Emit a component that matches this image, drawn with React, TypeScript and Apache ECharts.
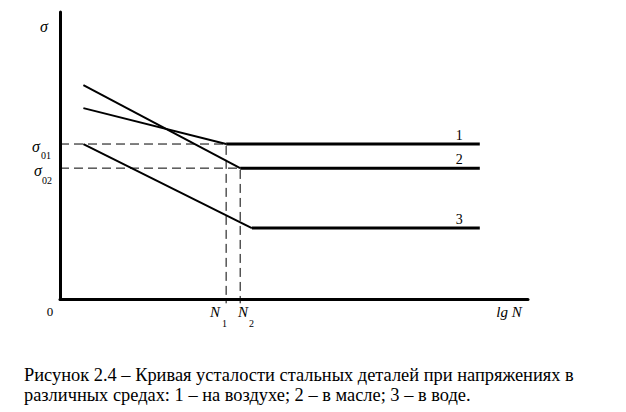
import React, { useEffect, useRef } from "react";
import * as echarts from "echarts";

// Fatigue curves (lg N, sigma) in arbitrary units: start, knee, end
const curve1: [number, number][] = [[0.5, 6.65], [3.55, 5.4], [8.97, 5.4]];
const curve2: [number, number][] = [[0.5, 7.45], [3.85, 4.56], [8.97, 4.56]];
const curve3: [number, number][] = [[0.5, 5.4], [4.1, 2.47], [8.97, 2.47]];
const curveNames = ["1", "2", "3"];
const guide1: [number, number][] = [[0, 5.4], [3.55, 5.4], [3.55, -0.15]];
const guide2: [number, number][] = [[0, 4.56], [3.85, 4.56], [3.85, -0.15]];
const captionLines = [
  "Рисунок 2.4 – Кривая усталости стальных деталей при напряжениях в",
  "различных средах: 1 – на воздухе; 2 – в масле; 3 – в воде.",
];

const SERIF = "Liberation Serif";

export default function App() {
  const ref = useRef<HTMLDivElement>(null);
  useEffect(() => {
    if (!ref.current) return;
    const chart = echarts.init(ref.current, null, { renderer: "svg" });
    const curves = [curve1, curve2, curve3];
    const series: any[] = [];
    curves.forEach((c, i) => {
      series.push({
        type: "line",
        data: c.slice(0, 2),
        symbol: "none",
        lineStyle: { color: "#000", width: 2 },
        silent: true,
      });
      series.push({
        type: "line",
        data: c.slice(1),
        symbol: "none",
        lineStyle: { color: "#000", width: 3 },
        silent: true,
        endLabel: {
          show: true,
          formatter: curveNames[i],
          offset: [-32, -9],
          color: "#000",
          fontFamily: SERIF,
          fontSize: 14,
        },
      });
    });
    [guide1, guide2].forEach((g) => {
      series.push({
        type: "line",
        data: g,
        symbol: "none",
        clip: false,
        lineStyle: { color: "#000", width: 1, type: [9, 5] },
        silent: true,
      });
    });

    const txt = (x: number, y: number, text: string, size: number, italic = false, align = "center") => ({
      type: "text",
      x,
      y,
      style: {
        text,
        fill: "#000",
        fontFamily: SERIF,
        fontSize: size,
        fontStyle: italic ? "italic" : "normal",
        align,
        verticalAlign: "middle",
      },
      silent: true,
    });

    chart.setOption({
      animation: false,
      backgroundColor: "#fff",
      grid: { left: 60, right: 98, top: 12, bottom: 113, containLabel: false },
      xAxis: {
        type: "value",
        min: 0,
        max: 10,
        axisLine: { show: true, lineStyle: { color: "#000", width: 3 } },
        axisTick: { show: false },
        axisLabel: { show: false },
        splitLine: { show: false },
      },
      yAxis: {
        type: "value",
        min: 0,
        max: 10,
        axisLine: { show: true, lineStyle: { color: "#000", width: 3 } },
        axisTick: { show: false },
        axisLabel: { show: false },
        splitLine: { show: false },
      },
      series,
      graphic: [
        txt(44, 26, "σ", 16, true),
        txt(36, 146, "σ", 16, true),
        txt(41, 155, "01", 10, false, "left"),
        txt(38, 170, "σ", 16, true),
        txt(42, 180, "02", 10, false, "left"),
        txt(50, 311, "0", 13),
        txt(215, 312, "N", 15, true),
        txt(222, 323, "1", 10, false, "left"),
        txt(243, 312, "N", 15, true),
        txt(249, 323, "2", 10, false, "left"),
        txt(509, 312, "lg N", 15, true),
        txt(24, 375, captionLines[0], 18.4, false, "left"),
        txt(24, 395, captionLines[1], 18.4, false, "left"),
      ],
    });
    return () => chart.dispose();
  }, []);
  return (
    <div
      ref={ref}
      style={{ position: "absolute", left: 0, top: 0, width: 626, height: 412 }}
    />
  );
}
